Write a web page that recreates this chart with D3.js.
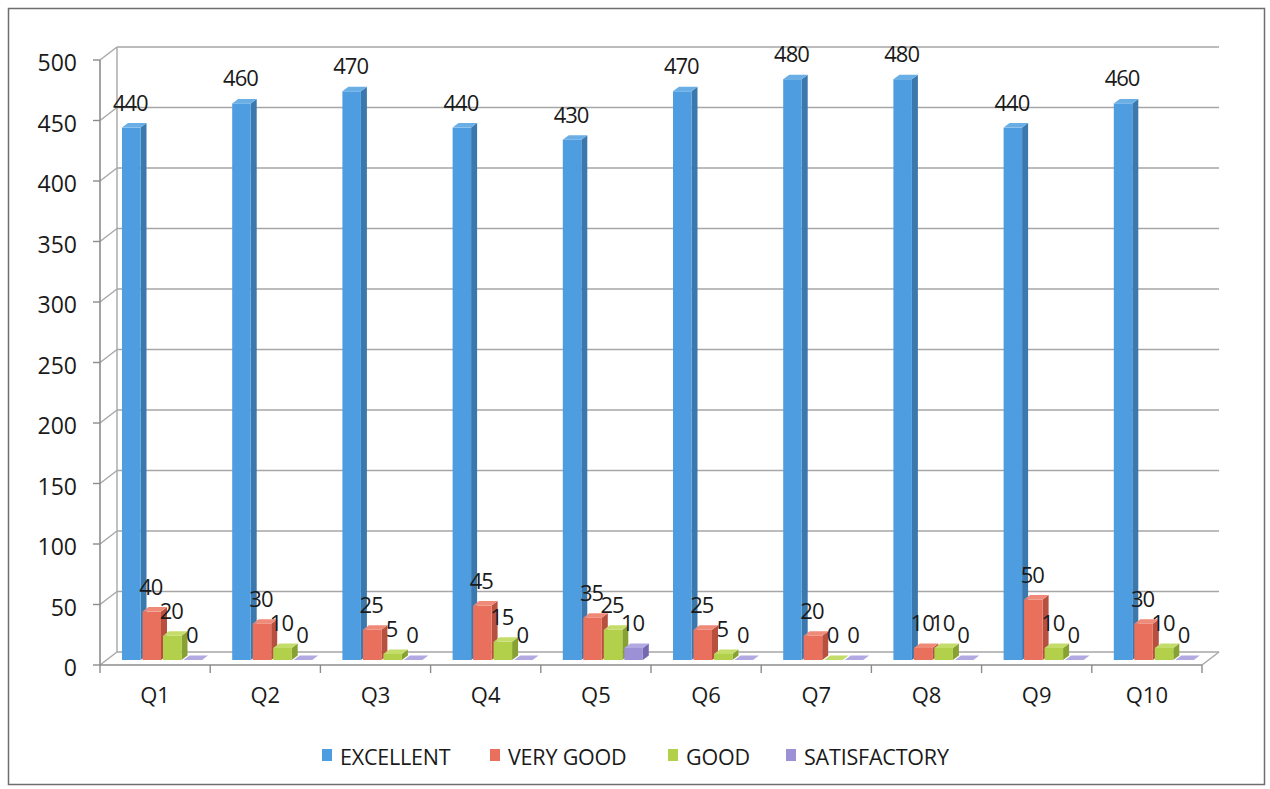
<!DOCTYPE html>
<html>
<head>
<meta charset="utf-8">
<script src="https://cdn.jsdelivr.net/npm/d3@7"></script>
<style>
  html, body { margin: 0; padding: 0; background: #fff; }
  svg { display: block; }
  text { font-family: "Open Sans", Lato, sans-serif; fill: #1a1a1a; }
</style>
</head>
<body>
<svg id="chart" width="1270" height="789"></svg>
<script>
const categories = ["Q1","Q2","Q3","Q4","Q5","Q6","Q7","Q8","Q9","Q10"];
const seriesNames = ["EXCELLENT","VERY GOOD","GOOD","SATISFACTORY"];
const excellent    = [440,460,470,440,430,470,480,480,440,460];
const veryGood     = [40,30,25,45,35,25,20,10,50,30];
const good         = [20,10,5,15,25,5,0,10,10,10];
const satisfactory = [0,0,0,0,10,0,0,0,0,0];
const yTicks = [0,50,100,150,200,250,300,350,400,450,500];

const seriesValues = [excellent, veryGood, good, satisfactory];
const colors = [
  {front:"#4d9de0", side:"#3a78ad", top:"#6aaee6"},
  {front:"#e8705c", side:"#b8503f", top:"#ef8a78"},
  {front:"#b3d04b", side:"#87a133", top:"#c4dc6a"},
  {front:"#9d91d6", side:"#7568b0", top:"#b2a8e2"}
];

const svg = d3.select("#chart");

svg.append("rect").attr("x",8.5).attr("y",8.5).attr("width",1256).attr("height",776)
  .attr("fill","#fff").attr("stroke","#6e6e6e").attr("stroke-width",1.5);

const y = d3.scaleLinear().domain([0,500]).range([652,47]);
const x = d3.scaleBand().domain(categories).range([117,1219]).padding(0);
const FDX = -17, FDY = 13;      // front plane offset
const BDX = -10, BDY = 8;       // bar plane offset

const grid = svg.append("g");
yTicks.forEach(t => {
  grid.append("line").attr("x1",117).attr("x2",1219).attr("y1",y(t)).attr("y2",y(t))
    .attr("stroke","#a6a6a6").attr("stroke-width",1.4);
  grid.append("line").attr("x1",117+FDX).attr("y1",y(t)+FDY).attr("x2",117).attr("y2",y(t))
    .attr("stroke","#a6a6a6").attr("stroke-width",1.4);
  grid.append("line").attr("x1",93).attr("x2",100).attr("y1",y(t)+FDY).attr("y2",y(t)+FDY)
    .attr("stroke","#8c8c8c").attr("stroke-width",1.4);
});
grid.append("line").attr("x1",117).attr("x2",117).attr("y1",y(500)).attr("y2",y(0))
  .attr("stroke","#a6a6a6").attr("stroke-width",1.4);
grid.append("line").attr("x1",100).attr("x2",100).attr("y1",y(500)+FDY).attr("y2",y(0)+FDY)
  .attr("stroke","#8c8c8c").attr("stroke-width",1.6);
grid.append("line").attr("x1",100).attr("x2",1219+FDX).attr("y1",y(0)+FDY).attr("y2",y(0)+FDY)
  .attr("stroke","#8c8c8c").attr("stroke-width",1.6);
grid.append("line").attr("x1",1219+FDX).attr("y1",y(0)+FDY).attr("x2",1219).attr("y2",y(0))
  .attr("stroke","#a6a6a6").attr("stroke-width",1.4);
categories.concat(["end"]).forEach((c,i) => {
  const xv = (i < categories.length ? x(c) : x(categories[i-1]) + x.bandwidth()) + FDX;
  grid.append("line").attr("x1",xv).attr("x2",xv).attr("y1",y(0)+FDY).attr("y2",y(0)+FDY+8)
    .attr("stroke","#8c8c8c").attr("stroke-width",1.4);
});

svg.append("g").selectAll("text").data(yTicks).join("text")
  .attr("x",77).attr("y",d => y(d)+FDY+2).attr("text-anchor","end")
  .attr("dominant-baseline","central").attr("font-size",23).text(d => d);

svg.append("g").selectAll("text").data(categories).join("text")
  .attr("x",d => x(d)+FDX+x.bandwidth()/2).attr("y",694).attr("text-anchor","middle")
  .attr("dominant-baseline","central").attr("font-size",22).text(d => d);

const inner = d3.scaleBand().domain(d3.range(4)).range([15,97]).paddingInner(0);
const W = 18.5, DX = 6, DY = -4.5;
const yb = v => y(v) + BDY;
const bars = svg.append("g");
categories.forEach((c,ci) => {
  seriesValues.forEach((vals,si) => {
    const v = vals[ci];
    const x0 = x(c) + BDX + inner(si);
    const top = yb(v), base = yb(0);
    const col = colors[si];
    const g = bars.append("g");
    g.append("path").attr("d",`M${x0+W},${base} L${x0+W+DX},${base+DY} L${x0+W+DX},${top+DY} L${x0+W},${top} Z`)
      .attr("fill",col.side);
    if (v > 0) g.append("rect").attr("x",x0).attr("y",top).attr("width",W).attr("height",base-top)
      .attr("fill",col.front);
    g.append("path").attr("d",`M${x0},${top} L${x0+DX},${top+DY} L${x0+W+DX},${top+DY} L${x0+W},${top} Z`)
      .attr("fill",col.top);
  });
});
const labels = svg.append("g");
categories.forEach((c,ci) => {
  seriesValues.forEach((vals,si) => {
    const v = vals[ci];
    const x0 = x(c) + BDX + inner(si);
    labels.append("text").attr("x",x0 + W/2 - 1).attr("y",yb(v) - 17)
      .attr("text-anchor","middle").attr("font-size",22).attr("letter-spacing",-1).text(v);
  });
});

const legendX = [322, 490, 668, 786];
const lg = svg.append("g");
seriesNames.forEach((n,i) => {
  lg.append("rect").attr("x",legendX[i]).attr("y",749).attr("width",10).attr("height",12)
    .attr("fill",colors[i].front);
  lg.append("text").attr("x",legendX[i]+18).attr("y",756).attr("dominant-baseline","central")
    .attr("font-size",21.5).attr("letter-spacing",-0.2).text(n);
});
</script>
</body>
</html>
